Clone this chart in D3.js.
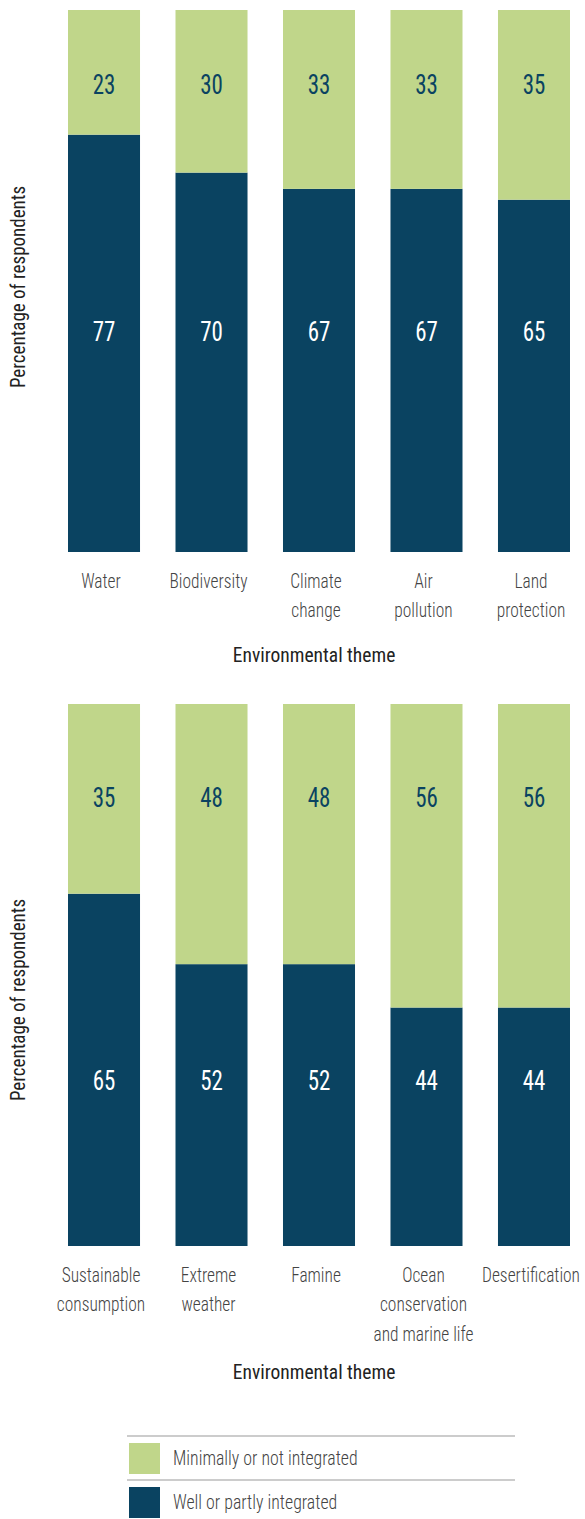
<!DOCTYPE html>
<html><head><meta charset="utf-8">
<script src="https://cdn.jsdelivr.net/npm/d3@7"></script>
<style>
html,body{margin:0;padding:0;background:#fff;}
svg{display:block;}
text{font-family:"Liberation Sans Narrow","Roboto Condensed",Roboto,"Liberation Sans",sans-serif;}
.light{font-weight:300;}
</style></head>
<body>
<svg id="chart" width="585" height="1519"></svg>
<script>
// ---- data ----
const topCategories = ["Water", "Biodiversity", "Climate change", "Air pollution", "Land protection"];
const topLabelLines = [["Water"], ["Biodiversity"], ["Climate", "change"], ["Air", "pollution"], ["Land", "protection"]];
const topWell = [77, 70, 67, 67, 65];
const topMinimal = [23, 30, 33, 33, 35];

const bottomCategories = ["Sustainable consumption", "Extreme weather", "Famine", "Ocean conservation and marine life", "Desertification"];
const bottomLabelLines = [["Sustainable", "consumption"], ["Extreme", "weather"], ["Famine"], ["Ocean", "conservation", "and marine life"], ["Desertification"]];
const bottomWell = [65, 52, 52, 44, 44];
const bottomMinimal = [35, 48, 48, 56, 56];

const seriesNames = ["Minimally or not integrated", "Well or partly integrated"];
const xTitle = "Environmental theme";
const yTitle = "Percentage of respondents";

// ---- style ----
const GREEN = "#c0d68a", NAVY = "#0a4361";
const svg = d3.select("#chart");

function panel(cats, lines, well, minimal, top, bottom, titleY, yTitleCenter, minLabelVal, wellLabelVal) {
  const x = d3.scaleBand().domain(cats).range([68, 570]).paddingInner(0.33).paddingOuter(0);
  const y = d3.scaleLinear().domain([0, 100]).range([bottom, top]);
  const g = svg.append("g");
  const rows = cats.map((c, i) => ({c, lines: lines[i], well: well[i], min: minimal[i]}));
  const stack = d3.stack().keys(["well", "min"])(rows);
  const colors = {well: NAVY, min: GREEN};
  stack.forEach(layer => {
    g.selectAll(null).data(layer).enter().append("rect")
      .attr("x", d => x(d.data.c))
      .attr("width", x.bandwidth())
      .attr("y", d => y(d[1]))
      .attr("height", d => y(d[0]) - y(d[1]))
      .attr("fill", colors[layer.key]);
  });
  // value labels
  const cx = d => x(d.c) + x.bandwidth() / 2;
  g.selectAll(null).data(rows).enter().append("text")
    .attr("transform", d => `translate(${cx(d)},${y(minLabelVal)}) scale(0.85,1)`)
    .attr("dy", "0.35em")
    .attr("text-anchor", "middle")
    .attr("font-size", 27).attr("fill", NAVY)
    .text(d => d.min);
  g.selectAll(null).data(rows).enter().append("text")
    .attr("transform", d => `translate(${cx(d)},${y(wellLabelVal)}) scale(0.85,1)`)
    .attr("dy", "0.35em")
    .attr("text-anchor", "middle")
    .attr("font-size", 27).attr("fill", "#fff")
    .text(d => d.well);
  // category labels
  const lab = g.selectAll(null).data(rows).enter().append("text")
    .attr("class", "light")
    .attr("transform", d => `translate(${cx(d) - 3},${bottom + 29}) scale(0.87,1)`)
    .attr("text-anchor", "middle")
    .attr("font-size", 20).attr("fill", "#444");
  lab.each(function(d) {
    const t = d3.select(this);
    d.lines.forEach((ln, j) => {
      t.append("tspan").attr("x", 0)
        .attr("y", j * 29.5).attr("dy", "0.35em").text(ln);
    });
  });
  // x title
  g.append("text").attr("transform", `translate(314,${titleY}) scale(0.93,1)`).attr("dy", "0.35em")
    .attr("text-anchor", "middle").attr("font-size", 21).attr("fill", "#222").text(xTitle);
  // y title
  g.append("text").attr("transform", `translate(18,${yTitleCenter}) rotate(-90) scale(0.95,1)`)
    .attr("dy", "0.35em").attr("text-anchor", "middle")
    .attr("font-size", 20).attr("fill", "#222").text(yTitle);
}

panel(topCategories, topLabelLines, topWell, topMinimal, 10, 552, 655, 287, 86.2, 40.6);
panel(bottomCategories, bottomLabelLines, bottomWell, bottomMinimal, 704, 1246, 1372, 1000, 82.8, 30.6);

// legend
const leg = svg.append("g");
const legendColors = [GREEN, NAVY];
const legTop = [1436, 1480];
seriesNames.forEach((n, i) => {
  leg.append("line").attr("x1", 127).attr("x2", 515).attr("y1", legTop[i]).attr("y2", legTop[i])
    .attr("stroke", "#9a9a9a").attr("stroke-width", 1.2);
  leg.append("rect").attr("x", 129).attr("y", legTop[i] + 7).attr("width", 31).attr("height", 31)
    .attr("fill", legendColors[i]);
  leg.append("text").attr("class", "light").attr("transform", `translate(173,${legTop[i] + 22}) scale(0.89,1)`).attr("dy", "0.35em")
    .attr("font-size", 20).attr("fill", "#444").text(n);
});
</script>
</body></html>
